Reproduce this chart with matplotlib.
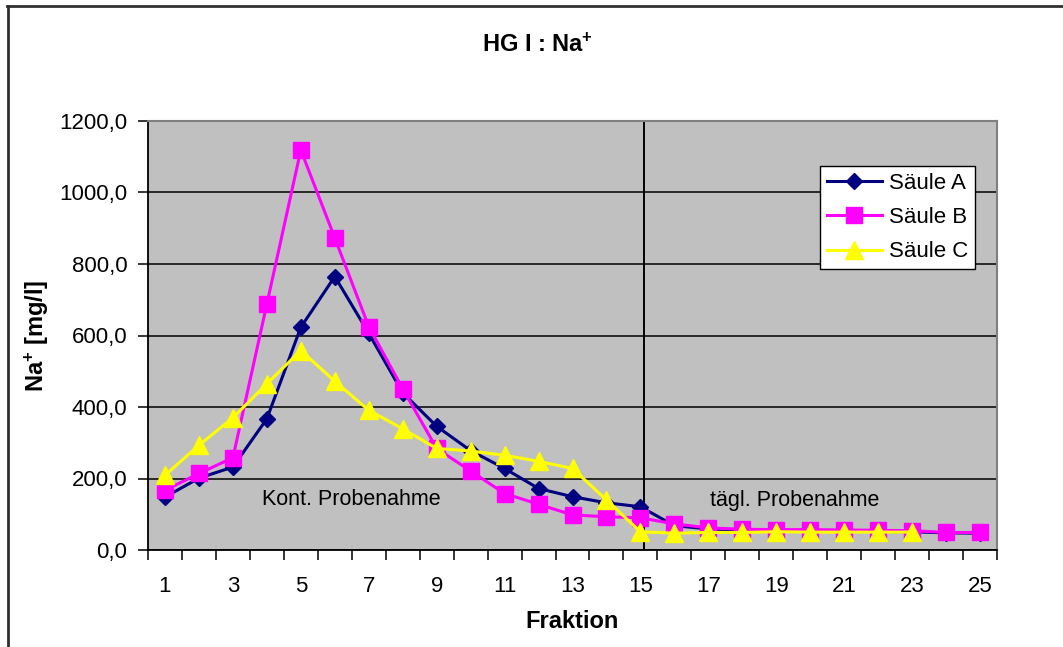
import numpy as np
import matplotlib.pyplot as plt
from matplotlib.lines import Line2D
from matplotlib.ticker import FixedLocator, FuncFormatter

plt.rcParams['font.family'] = ['Liberation Sans', 'DejaVu Sans']
plt.rcParams['mathtext.fontset'] = 'custom'
plt.rcParams['mathtext.bf'] = 'Liberation Sans:bold'
plt.rcParams['mathtext.rm'] = 'Liberation Sans:bold'
plt.rcParams['mathtext.default'] = 'bf'

fraktion = list(range(1, 26))
saeule_a = [148, 201, 232, 367, 623, 765, 606, 440, 346, 278, 228, 172, 149, 132, 121,
            68, 59, 56, 55, 54, 53, 52, 51, 48, 47]
saeule_b = [167, 214, 258, 688, 1119, 873, 625, 451, 284, 221, 158, 128, 98, 93, 90,
            73, 62, 58, 57, 57, 56, 55, 54, 49, 49]
saeule_c = [209, 293, 370, 465, 558, 472, 391, 339, 284, 277, 265, 248, 228, 140, 51,
            47, 49, 49, 51, 50, 50, 50, 50]
y_ticks = [0, 200, 400, 600, 800, 1000, 1200]

W, H = 1063, 647
fig = plt.figure(figsize=(W / 100, H / 100), dpi=100)
fig.patch.set_facecolor('white')

# partial outer frame (top and left edges)
fig.add_artist(Line2D([7 / W, 1.0], [1 - 6 / H, 1 - 6 / H], color='#303030', lw=2.0))
fig.add_artist(Line2D([7.5 / W, 7.5 / W], [0, 1 - 6 / H], color='#303030', lw=2.0))

left, right, top, bottom = 148, 997, 121, 550
ax = fig.add_axes([left / W, 1 - bottom / H, (right - left) / W, (bottom - top) / H])
ax.set_facecolor('#C0C0C0')

ax.set_xlim(0.5, 25.5)
ax.set_ylim(0, 1200)

ax.yaxis.set_major_locator(FixedLocator(y_ticks))
ax.yaxis.set_major_formatter(FuncFormatter(lambda v, p: f"{v:.1f}".replace('.', ',')))
ax.grid(axis='y', color='black', lw=1.1)
ax.set_axisbelow(True)

# category axis: labels on odd fractions, tick marks between categories
ax.set_xticks(np.arange(1, 26, 2))
ax.set_xticklabels([str(i) for i in range(1, 26, 2)])
ax.set_xticks(np.arange(0.5, 26, 1), minor=True)
ax.tick_params(axis='x', which='major', length=0, pad=19, labelsize=16)
ax.tick_params(axis='x', which='minor', length=7, width=1.1, direction='out', color='black')
ax.tick_params(axis='y', length=7, width=1.1, direction='out', labelsize=16, pad=8)

for side in ('top', 'right'):
    ax.spines[side].set_color('#808080')
    ax.spines[side].set_linewidth(1.5)
for side in ('left', 'bottom'):
    ax.spines[side].set_color('black')
    ax.spines[side].set_linewidth(1.3)

ax.plot(fraktion, saeule_a, color='#000080', lw=2.2, marker='D', ms=7.8, label='Säule A', zorder=3)
ax.plot(fraktion, saeule_b, color='#FF00FF', lw=2.2, marker='s', ms=11, label='Säule B', zorder=4)
ax.plot(fraktion[:len(saeule_c)], saeule_c, color='#FFFF00', lw=2.2, marker='^', ms=12.5,
        label='Säule C', zorder=5)

ax.axvline(15.1, color='black', lw=1.4, zorder=2)

ax.text(6.48, 140, 'Kont. Probenahme', fontsize=15.5, ha='center', va='center')
ax.text(19.55, 138, 'tägl. Probenahme', fontsize=15.5, ha='center', va='center')

ax.set_xlabel('Fraktion', fontsize=17, fontweight='bold', labelpad=9)
ax.set_ylabel('Na$^{+}$ [mg/l]', fontsize=17, fontweight='bold', labelpad=6)
fig.text(537 / W, 1 - 45 / H, 'HG I : Na$^{+}$', fontsize=17, fontweight='bold',
         ha='center', va='center')

leg = ax.legend(loc='upper left', bbox_to_anchor=((820 - left) / (right - left), (bottom - 166) / (bottom - top)),
                fontsize=16, frameon=True, fancybox=False, borderpad=0.3, labelspacing=0.6,
                handlelength=2.5, handletextpad=0.3, borderaxespad=0)
leg.get_frame().set_edgecolor('black')
leg.get_frame().set_linewidth(1.0)
leg.get_frame().set_facecolor('white')
leg.get_frame().set_alpha(1)

fig.savefig('out.png', dpi=100)
